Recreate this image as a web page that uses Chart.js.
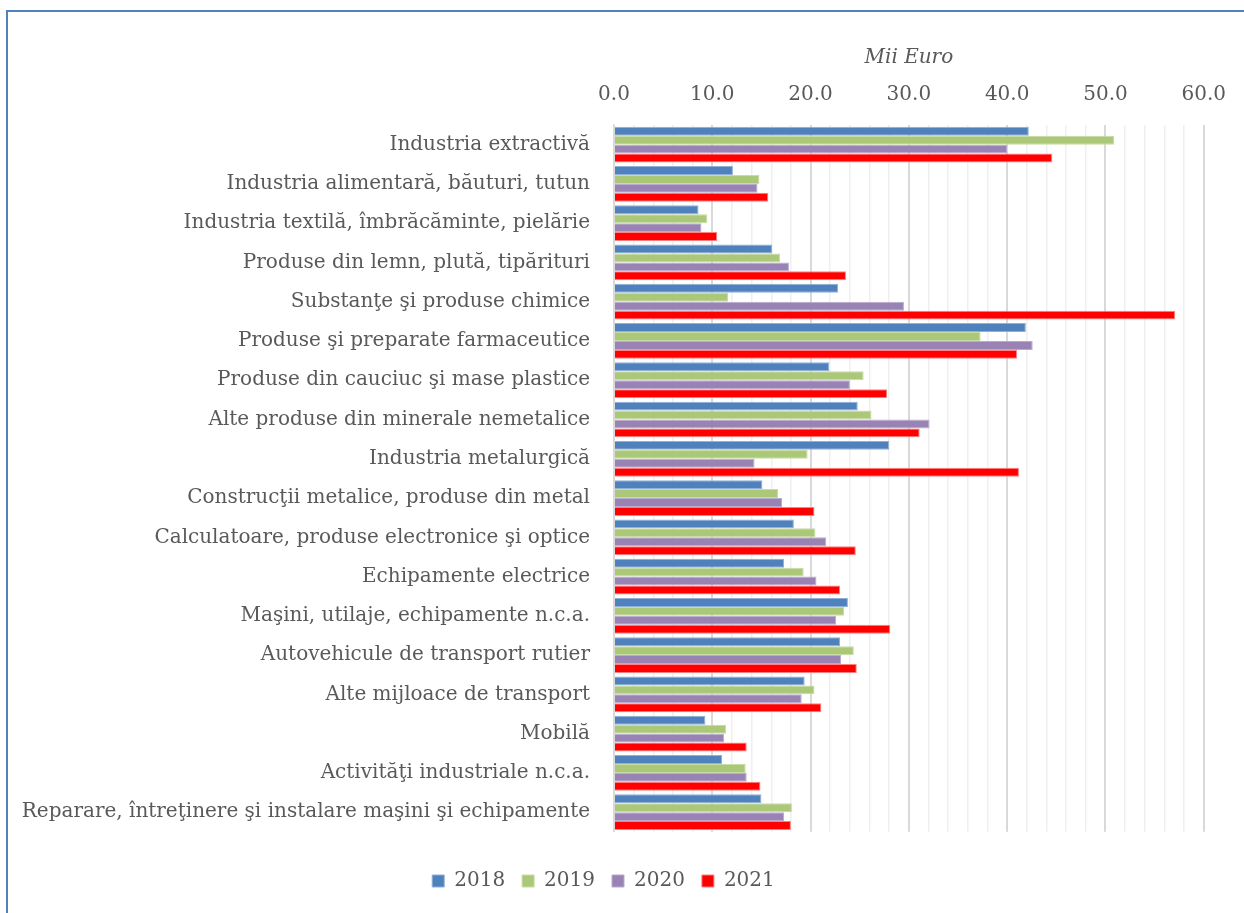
<!DOCTYPE html>
<html>
<head>
  <title>Mii Euro</title>
  <script src="https://cdn.jsdelivr.net/npm/chart.js"></script>
  <style>
    html, body { margin: 0; padding: 0; background: #fff; }
    #wrap { position: relative; width: 1244px; height: 913px; overflow: hidden; }
    /* rama albastra din stanga si de sus */
    #frame {
      position: absolute; left: 6px; top: 10px; width: 1400px; height: 1100px;
      border-left: 2px solid #4F81BD; border-top: 2px solid #4F81BD;
    }
    #chart { position: absolute; left: 0; top: 0; }
  </style>
</head>
<body>
<div id="wrap">
  <div id="frame"></div>
  <canvas id="chart" width="1244" height="913"></canvas>
</div>
<script>
  const categories = [
    'Industria extractivă',
    'Industria alimentară, băuturi, tutun',
    'Industria textilă, îmbrăcăminte, pielărie',
    'Produse din lemn, plută, tipărituri',
    'Substanţe şi produse chimice',
    'Produse şi preparate farmaceutice',
    'Produse din cauciuc şi mase plastice',
    'Alte produse din minerale nemetalice',
    'Industria metalurgică',
    'Construcţii metalice, produse din metal',
    'Calculatoare, produse electronice şi optice',
    'Echipamente electrice',
    'Maşini, utilaje, echipamente n.c.a.',
    'Autovehicule de transport rutier',
    'Alte mijloace de transport',
    'Mobilă',
    'Activităţi industriale n.c.a.',
    'Reparare, întreţinere şi instalare maşini şi echipamente'
  ];
  const years = ['2018', '2019', '2020', '2021'];
  const v2018 = [42.2, 12.1, 8.6, 16.1, 22.8, 41.9, 21.9, 24.8, 28.0, 15.1, 18.3, 17.3, 23.8, 23.0, 19.4, 9.3, 11.0, 15.0];
  const v2019 = [50.9, 14.8, 9.5, 16.9, 11.6, 37.3, 25.4, 26.2, 19.7, 16.7, 20.5, 19.3, 23.4, 24.4, 20.4, 11.4, 13.4, 18.1];
  const v2020 = [40.0, 14.6, 8.9, 17.8, 29.5, 42.6, 24.0, 32.1, 14.3, 17.1, 21.6, 20.6, 22.6, 23.1, 19.1, 11.2, 13.5, 17.3];
  const v2021 = [44.6, 15.7, 10.5, 23.6, 57.1, 41.0, 27.8, 31.1, 41.2, 20.4, 24.6, 23.0, 28.1, 24.7, 21.1, 13.5, 14.9, 18.0];
  const axisMin = 0, axisMax = 60, minorStep = 2, majorStep = 10;
  const axisTitle = 'Mii Euro';

  const fill = ['#4F81BD', '#ABC879', '#9983B4', '#FF0000'];
  const edge = ['#8FB0D8', '#C8DCA6', '#BBAACF', '#FF8080'];
  const serie = [v2018, v2019, v2020, v2021];

  const textColor = '#595959';
  const fontFam = "'DejaVu Serif', serif";

  const ctx = document.getElementById('chart').getContext('2d');
  new Chart(ctx, {
    type: 'bar',
    data: {
      labels: categories,
      datasets: years.map((y, i) => ({
        label: y,
        data: serie[i],
        backgroundColor: fill[i],
        borderColor: edge[i],
        borderWidth: 1,
        barPercentage: 1.0,
        categoryPercentage: 0.91
      }))
    },
    options: {
      responsive: false,
      animation: false,
      indexAxis: 'y',
      layout: { padding: { left: 0, right: 37, top: 0, bottom: 12 } },
      plugins: {
        tooltip: { enabled: false },
        legend: {
          position: 'bottom',
          // titlu gol doar ca sa lase spatiu intre grafic si legenda
          title: { display: true, text: ' ', font: { size: 1 }, padding: { top: 0, bottom: 21 } },
          labels: {
            boxWidth: 12, boxHeight: 12, padding: 17,
            color: textColor,
            font: { family: fontFam, size: 20 }
          }
        }
      },
      scales: {
        x: {
          position: 'top',
          min: axisMin, max: axisMax,
          afterFit(scale) { scale.height = 125; },
          border: { display: false },
          grid: {
            drawTicks: false,
            color: c => (c.tick && c.tick.value % majorStep === 0) ? '#D9D9D9' : '#EFEFEF',
            lineWidth: c => (c.tick && c.tick.value % majorStep === 0) ? 2 : 1.5
          },
          ticks: {
            stepSize: minorStep,
            autoSkip: false,
            maxRotation: 0,
            padding: 18,
            color: textColor,
            font: { family: fontFam, size: 20 },
            callback: v => (v % majorStep === 0 ? v.toFixed(1) : '')
          },
          title: {
            display: true,
            text: axisTitle,
            color: textColor,
            padding: { top: 46, bottom: 0 },
            font: { family: fontFam, size: 20, style: 'italic' }
          }
        },
        y: {
          afterFit(scale) { scale.width = 614; },
          border: { display: true, color: '#D9D9D9', width: 1.5 },
          grid: { display: false, drawTicks: false },
          ticks: {
            padding: 24,
            color: textColor,
            font: { family: fontFam, size: 20 }
          }
        }
      }
    }
  });
</script>
</body>
</html>
